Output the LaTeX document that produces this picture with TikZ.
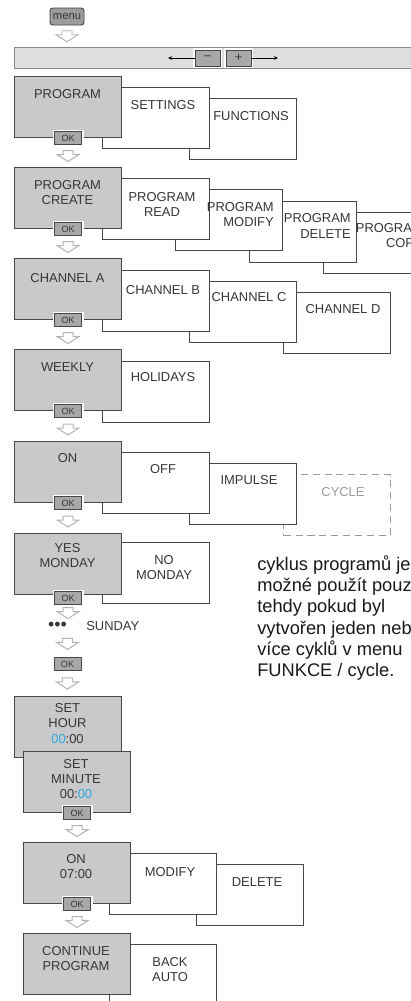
\documentclass[tikz,border=0pt]{standalone}
\usepackage{fontspec}
\setmainfont{Liberation Sans}
\usetikzlibrary{arrows.meta,calc,positioning}
\definecolor{mnGray}{HTML}{C9C9CB}
\definecolor{mnBar}{HTML}{DEDEDE}
\definecolor{mnBarLine}{HTML}{8A8A8A}
\definecolor{mnKey}{HTML}{A8A8A8}
\definecolor{mnMenu}{HTML}{9C9C9C}
\definecolor{mnLine}{HTML}{474747}
\definecolor{mnText}{HTML}{363636}
\definecolor{mnBlue}{HTML}{29A9E1}
\definecolor{mnArrow}{HTML}{B3B3B3}
\definecolor{mnDash}{HTML}{9B9B9B}

\begin{document}
\begin{tikzpicture}[
  x=0.025cm, y=-0.025cm,
  font=\fontsize{9.2}{10.7}\selectfont,
  mainbox/.style={
    draw=mnLine,
    line width=0.8pt,
    fill=mnGray,
    anchor=north west,
    minimum width=2.675cm,
    minimum height=1.525cm,
    inner sep=0pt
  },
  subbox/.style={mainbox,fill=white},
  ghostbox/.style={subbox,draw=mnDash,dash pattern=on 5pt off 3.5pt},
  lbl/.style={text=mnText,align=center,inner sep=0pt},
  key/.style={
    draw=mnLine,
    line width=0.6pt,
    fill=mnKey,
    minimum width=0.675cm,
    minimum height=0.325cm,
    inner sep=0pt,
    text=mnText,
    font=\fontsize{6.4}{7}\selectfont,
    preaction={draw=white,line width=2.8pt}
  },
  pmkey/.style={key,minimum width=0.625cm,minimum height=0.4cm,
    font=\fontsize{9}{10}\selectfont},
  menukey/.style={
    draw=mnLine,
    line width=0.7pt,
    fill=mnMenu,
    rounded corners=2pt,
    minimum width=0.85cm,
    minimum height=0.425cm,
    inner sep=0pt,
    text=mnText,
    font=\fontsize{8}{9}\selectfont
  },
  barbox/.style={draw=mnBarLine,line width=0.7pt,fill=mnBar,anchor=north west,
    minimum width=10.2cm,minimum height=0.525cm,inner sep=0pt},
  hollow/.style={draw=mnArrow,line width=0.7pt,fill=white,line join=miter},
  thin arrow/.style={-{Stealth[length=3pt,width=2.6pt]},line width=0.5pt,black},
  downarrow/.pic={
    \draw[hollow] (-5,-5.5) -- (5,-5.5) -- (5,-1.5) -- (11,-1.5) -- (0,5.5)
      -- (-11,-1.5) -- (-5,-1.5) -- cycle;
  }
]
  \useasboundingbox (0,0) rectangle (411,1001);
  \clip (0,0) rectangle (411,1001);

  % menu key and scroll bar
  \node[menukey] (menu) at (67,16.5) {menu};
  \node[barbox] (bar) at (14,47) {};
  \node[pmkey] (minus) at (207.5,58) {−};
  \node[pmkey] (plus) at (238.5,58) {+};
  \coordinate (bar left) at (168,58);
  \coordinate (bar right) at (278,58);
  \draw[thin arrow] (minus) -- (bar left);
  \draw[thin arrow] (plus) -- (bar right);
  \pic at ($(menu.south)!0.5!(menu.south |- bar.north)$) {downarrow};

  % PROGRAM / SETTINGS / FUNCTIONS
  \node[subbox] (functions) at (189,98) {};
  \node[subbox] (settings) at (102,87) {};
  \node[mainbox] (program) at (14,76) {};
  \node[lbl] (t-program) at (67.5,94) {PROGRAM};
  \node[lbl] (t-settings) at (163,105) {SETTINGS};
  \node[lbl] (t-functions) at (251,116) {FUNCTIONS};
  \node[key] (ok1) at (program.south) {OK};

  % program menu
  \node[subbox] (copy) at (323,212) {};
  \node[subbox] (delete) at (249,201) {};
  \node[subbox] (modify) at (175,189) {};
  \node[subbox] (read) at (102,178) {};
  \node[mainbox] (create) at (14,167) {};
  \node[lbl] (t-create) at (67.5,192.5) {PROGRAM\\CREATE};
  \node[lbl] (t-read) at (162,204.5) {PROGRAM\\READ};
  \node[lbl,align=right,anchor=east] (t-modify) at (274,215) {PROGRAM\\MODIFY};
  \node[lbl,align=right,anchor=east] (t-delete) at (351,226) {PROGRAM\\DELETE};
  \node[lbl,align=right,anchor=east] (t-copy) at (423,236) {PROGRAM\\COPY};
  \node[key] (ok2) at (create.south) {OK};
  \pic at ($(ok1.south)!0.5!(create.north)$) {downarrow};

  % channels
  \node[subbox] (chD) at (283,292) {};
  \node[subbox] (chC) at (189,281) {};
  \node[subbox] (chB) at (102,270) {};
  \node[mainbox] (chA) at (14,258) {};
  \node[lbl] (t-chA) at (67.5,278) {CHANNEL A};
  \node[lbl] (t-chB) at (163,290) {CHANNEL B};
  \node[lbl] (t-chC) at (249,297) {CHANNEL C};
  \node[lbl] (t-chD) at (343,309) {CHANNEL D};
  \node[key] (ok3) at (chA.south) {OK};
  \pic at ($(ok2.south)!0.5!(chA.north)$) {downarrow};

  % weekly / holidays
  \node[subbox] (holidays) at (102,361) {};
  \node[mainbox] (weekly) at (14,349) {};
  \node[lbl] (t-weekly) at (67.5,367) {WEEKLY};
  \node[lbl] (t-holidays) at (163,377) {HOLIDAYS};
  \node[key] (ok4) at (weekly.south) {OK};
  \pic at ($(ok3.south)!0.5!(weekly.north)$) {downarrow};

  % switching mode
  \node[ghostbox] (cycle) at (283,474) {};
  \node[subbox] (impulse) at (189,463) {};
  \node[subbox] (off) at (102,452) {};
  \node[mainbox] (on) at (14,441) {};
  \node[lbl] (t-on) at (67.5,458) {ON};
  \node[lbl] (t-off) at (163,469) {OFF};
  \node[lbl] (t-impulse) at (249,480) {IMPULSE};
  \node[lbl,text=mnDash] (t-cycle) at (343,492) {CYCLE};
  \node[key] (ok5) at (on.south) {OK};
  \pic at ($(ok4.south)!0.5!(on.north)$) {downarrow};

  % days
  \node[subbox] (nomon) at (102,542) {};
  \node[mainbox] (yesmon) at (14,533) {};
  \node[lbl] (t-yesmon) at (67.5,555.5) {YES\\MONDAY};
  \node[lbl] (t-nomon) at (164,568) {NO\\MONDAY};
  \node[key] (ok6) at ($(yesmon.south)+(0,3)$) {OK};
  \pic at ($(ok5.south)!0.5!(yesmon.north)$) {downarrow};

  \node[lbl,font=\fontsize{12.7}{14}\selectfont] (dots) at (57.5,626) {•••};
  \node[lbl,anchor=west] (sunday) at (86,626) {SUNDAY};
  \node[key] (ok7) at (67.5,664) {OK};
  \pic at ($(ok6.south)!0.5!(ok6.south |- sunday.north)$) {downarrow};
  \pic at ($(ok7.north)!0.5!(ok7.north |- sunday.south)$) {downarrow};

  % note on the cycle mode
  \node[lbl,align=left,anchor=west,text=black!90,
    font=\fontsize{13}{15.2}\selectfont] (note) at (257,618)
    {cyklus programů je\\možné použít pouze\\tehdy pokud byl\\vytvořen jeden nebo\\více cyklů v menu\\FUNKCE / cycle.};

  % time setting
  \node[mainbox] (sethour) at (14,696) {};
  \node[mainbox] (setmin) at (23,751) {};
  \node[lbl] (t-sethour) at (67.5,723.5) {SET\\HOUR\\\textcolor{mnBlue}{00}:00};
  \node[lbl] (t-setmin) at (76,779) {SET\\MINUTE\\00:\textcolor{mnBlue}{00}};
  \node[key] (ok8) at (setmin.south) {OK};
  \pic at ($(ok7.south)!0.5!(ok7.south |- sethour.north)$) {downarrow};

  % switching time
  \node[subbox] (delete2) at (196,864) {};
  \node[subbox] (modify2) at (109,853) {};
  \node[mainbox] (on2) at (23,842) {};
  \node[lbl] (t-on2) at (76,867) {ON\\07:00};
  \node[lbl] (t-modify2) at (170,872) {MODIFY};
  \node[lbl] (t-delete2) at (257,882) {DELETE};
  \node[key] (ok9) at (on2.south) {OK};
  \pic at ($(ok8.south)!0.5!(on2.north)$) {downarrow};

  % end of programming
  \node[subbox] (backauto) at (109,944) {};
  \node[mainbox] (continue) at (23,933) {};
  \node[lbl] (t-continue) at (76,959) {CONTINUE\\PROGRAM};
  \node[lbl] (t-backauto) at (170,969.5) {BACK\\AUTO};
  \pic at ($(ok9.south)!0.5!(continue.north)$) {downarrow};
\end{tikzpicture}
\end{document}
